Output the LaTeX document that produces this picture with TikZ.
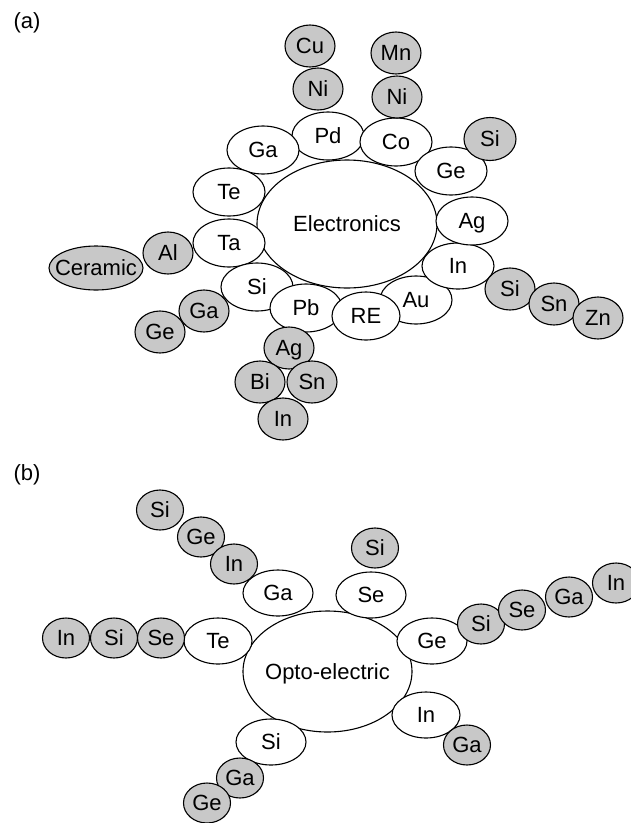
\documentclass[tikz,border=0pt]{standalone}
\usepackage{fontspec}
\setmainfont{Liberation Sans}
\usetikzlibrary{shapes.geometric}
\definecolor{greyc}{RGB}{200,200,200}
\tikzset{
  elbase/.style={ellipse, draw=black, line width=1.1pt, inner sep=0pt,
    font=\fontsize{22}{26}\selectfont, text height=15.8pt, text depth=0pt},
  bigel/.style={elbase, fill=white},
  whiteA/.style={elbase, fill=white, minimum width=72pt, minimum height=48pt},
  greyA/.style={elbase, fill=greyc, minimum width=50pt, minimum height=42pt},
  whiteB/.style={elbase, fill=white, minimum width=70pt, minimum height=46pt},
  greyB/.style={elbase, fill=greyc, minimum width=47pt, minimum height=40pt},
  panellabel/.style={font=\fontsize{22}{26}\selectfont, inner sep=0pt}
}
\newcommand{\zb}[1]{\makebox[0pt]{#1}}
\begin{document}
\begin{tikzpicture}[x=1pt,y=-1pt]
\useasboundingbox (0,0) rectangle (631,823);
% ---------- panel (a) ----------
\node[panellabel] (la) at (27,23) {(a)};
\node[bigel, minimum width=180pt, minimum height=128pt] (elec) at (347,224) {\zb{Electronics}};
% white ring
\node[whiteA] (apd) at (328,136) {\zb{Pd}};
\node[whiteA] (aco) at (396,142) {\zb{Co}};
\node[whiteA] (aga) at (263,150) {\zb{Ga}};
\node[whiteA] (ate) at (229,192) {\zb{Te}};
\node[whiteA] (ata) at (229,243) {\zb{Ta}};
\node[whiteA] (asi) at (257,287) {\zb{Si}};
\node[whiteA] (apb) at (306,308) {\zb{Pb}};
\node[whiteA] (aau) at (416,300) {\zb{Au}};
\node[whiteA, minimum width=68pt] (are) at (366,316) {\zb{RE}};
\node[whiteA, minimum height=46pt] (ain) at (458,266) {\zb{In}};
\node[whiteA] (aag) at (472,221) {\zb{Ag}};
\node[whiteA] (age) at (451,171) {\zb{Ge}};
% grey branches
\node[greyA] (acu) at (310,46) {\zb{Cu}};
\node[greyA] (ani1) at (318,89) {\zb{Ni}};
\node[greyA] (amn) at (396,53) {\zb{Mn}};
\node[greyA] (ani2) at (397,97) {\zb{Ni}};
\node[greyA, minimum width=52pt, minimum height=43pt] (asig) at (490,139) {\zb{Si}};
\node[greyA] (aal) at (168,253) {\zb{Al}};
\node[greyA, minimum width=94pt, minimum height=44pt] (acer) at (96,268) {\zb{Ceramic}};
\node[greyA] (agag) at (204,311) {\zb{Ga}};
\node[greyA] (ageg) at (160,332) {\zb{Ge}};
\node[greyA] (aagg) at (289,348) {\zb{Ag}};
\node[greyA] (abi) at (260,382) {\zb{Bi}};
\node[greyA] (asn1) at (312,382) {\zb{Sn}};
\node[greyA] (aing) at (283,419) {\zb{In}};
\node[greyA] (asi2) at (510,289) {\zb{Si}};
\node[greyA] (asn2) at (554,304) {\zb{Sn}};
\node[greyA] (azn) at (598,318) {\zb{Zn}};
% ---------- panel (b) ----------
\node[panellabel] (lb) at (27,475) {(b)};
\node[bigel, minimum width=169pt, minimum height=121pt] (opto) at (327.5,671.5) {\zb{Opto-electric}};
\node[whiteB] (bga) at (278,593) {\zb{Ga}};
\node[whiteB] (bse) at (371,595) {\zb{Se}};
\node[whiteB, minimum width=68pt] (bte) at (218,641) {\zb{Te}};
\node[whiteB] (bge) at (432,641) {\zb{Ge}};
\node[whiteB, minimum width=68pt] (bin) at (426,715) {\zb{In}};
\node[whiteB] (bsi) at (271,742) {\zb{Si}};
\node[greyB] (bsi1) at (160,510) {\zb{Si}};
\node[greyB] (bge1) at (201,537) {\zb{Ge}};
\node[greyB] (bin1) at (234,564) {\zb{In}};
\node[greyB] (bsi2) at (375,548) {\zb{Si}};
\node[greyB] (bin3) at (66,638) {\zb{In}};
\node[greyB] (bsi3) at (114,638) {\zb{Si}};
\node[greyB] (bse3) at (161,638) {\zb{Se}};
\node[greyB] (bsi4) at (481,624) {\zb{Si}};
\node[greyB] (bse4) at (522,610) {\zb{Se}};
\node[greyB] (bga4) at (569,597) {\zb{Ga}};
\node[greyB] (bin4) at (616,583) {\zb{In}};
\node[greyB] (bga5) at (467,745) {\zb{Ga}};
\node[greyB] (bga6) at (240,778) {\zb{Ga}};
\node[greyB] (bge6) at (207,803) {\zb{Ge}};
\end{tikzpicture}
\end{document}
